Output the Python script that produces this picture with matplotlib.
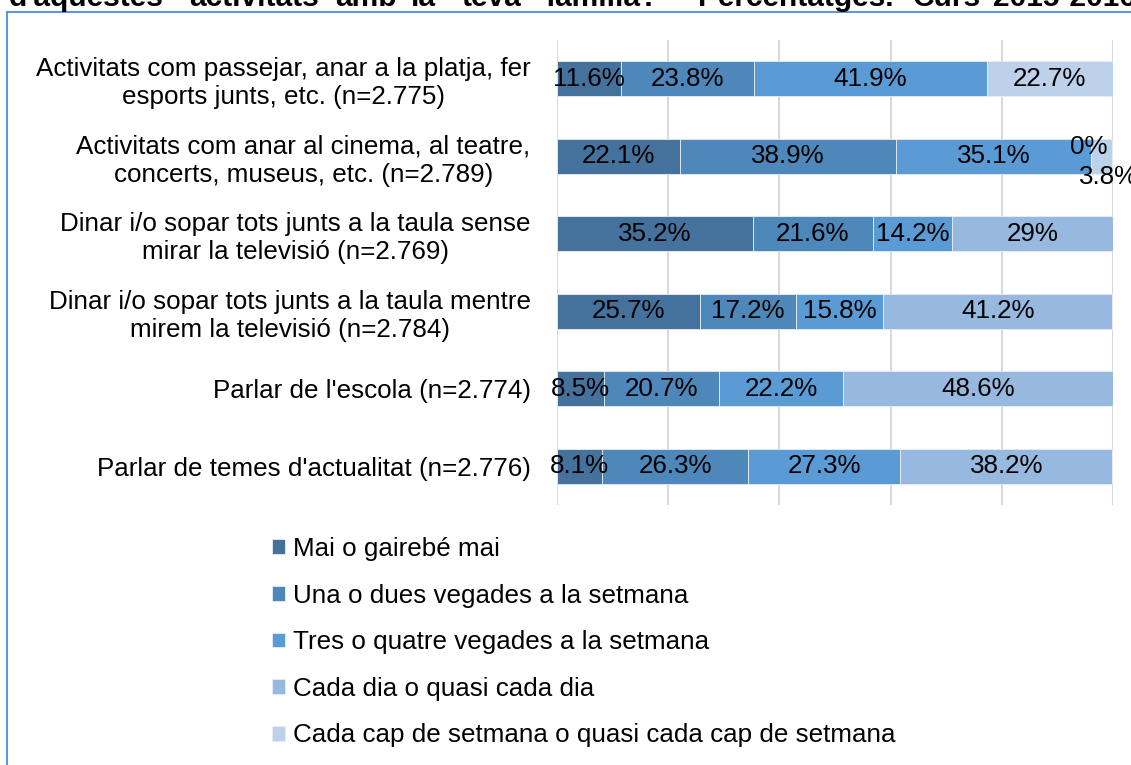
import numpy as np
import matplotlib
matplotlib.use("Agg")
import matplotlib.pyplot as plt
from matplotlib.patches import Rectangle

plt.rcParams['font.family'] = ['Liberation Sans', 'DejaVu Sans']

categories = [
    "Activitats com passejar, anar a la platja, fer\nesports junts, etc. (n=2.775)",
    "Activitats com anar al cinema, al teatre,\nconcerts, museus, etc. (n=2.789)",
    "Dinar i/o sopar tots junts a la taula sense\nmirar la televisió (n=2.769)",
    "Dinar i/o sopar tots junts a la taula mentre\nmirem la televisió (n=2.784)",
    "Parlar de l'escola (n=2.774)",
    "Parlar de temes d'actualitat (n=2.776)",
]
series_names = [
    "Mai o gairebé mai",
    "Una o dues vegades a la setmana",
    "Tres o quatre vegades a la setmana",
    "Cada dia o quasi cada dia",
    "Cada cap de setmana o quasi cada cap de setmana",
]
mai = [11.6, 22.1, 35.2, 25.7, 8.5, 8.1]
una_dues = [23.8, 38.9, 21.6, 17.2, 20.7, 26.3]
tres_quatre = [41.9, 35.1, 14.2, 15.8, 22.2, 27.3]
cada_dia = [np.nan, 0.0, 29.0, 41.2, 48.6, 38.2]
cap_setmana = [22.7, 3.8, np.nan, np.nan, np.nan, np.nan]
colors = ['#44729D', '#4E87BA', '#5B9BD5', '#97B9E0', '#BDD1EA']

# title is cut off at the top of the original image (justified words)
title_words = ["d'aquestes", "activitats", "amb", "la", "teva", "família?",
               "Percentatges.", "Curs", "2015-2016"]
title_x = [9, 189, 335, 411, 462, 545, 698, 913, 993]

# label nudges (pixels) where the original chart moved labels away
nudges = {(1, 3): (-3, 9), (1, 4): (7, -21)}

fs = 18.7
fig = plt.figure(figsize=(11.31, 7.65), dpi=100)
ax = fig.add_axes([557 / 1131, 1 - 505 / 765, 556 / 1131, 465 / 765])

data = [mai, una_dues, tres_quatre, cada_dia, cap_setmana]
y = np.arange(len(categories))
left = np.zeros(len(categories))
for j, (vals, name, col) in enumerate(zip(data, series_names, colors)):
    v = np.nan_to_num(np.array(vals, dtype=float))
    ax.barh(y, v, left=left, height=0.45, color=col, edgecolor='#E8EEF6',
            linewidth=0.6, label=name, zorder=2)
    for i, val in enumerate(vals):
        if np.isnan(val):
            continue
        dx, dy = nudges.get((i, j), (0, 0))
        txt = f"{val:g}%"
        ax.annotate(txt, (left[i] + v[i] / 2, y[i]),
                    xytext=(dx * 0.72, dy * 0.72), textcoords='offset points',
                    ha='center', va='center', fontsize=fs, color='black',
                    zorder=3, annotation_clip=False)
    left += v

ax.set_xlim(0, 100)
ax.set_ylim(len(categories) - 0.5, -0.5)
ax.set_xticks(np.arange(0, 101, 20))
ax.set_xticklabels([])
ax.grid(axis='x', color='#D9D9D9', linewidth=1.5, zorder=0)
ax.set_axisbelow(True)
ax.tick_params(axis='both', length=0)
ax.tick_params(axis='y', pad=19)
ax.set_yticks(y)
ax.set_yticklabels(categories, fontsize=fs, multialignment='center')
for s in ax.spines.values():
    s.set_visible(False)

fig.legend(loc='upper left', bbox_to_anchor=(272 / 1131, 1 - 537 / 765),
           frameon=False, fontsize=fs, handlelength=0.5, handleheight=0.5,
           handletextpad=0.3, labelspacing=0.87, borderpad=0, borderaxespad=0)

for w, xp in zip(title_words, title_x):
    fig.text(xp / 1131, 1 - 6 / 765, w, fontsize=21.5, fontweight='bold',
             ha='left', va='baseline')
fig.patches.append(Rectangle((7 / 1131, -0.1), 2, 1 - 12 / 765 + 0.1,
                             transform=fig.transFigure, fill=False,
                             edgecolor='#5B9BD5', linewidth=1.5))

fig.savefig("out.png", dpi=100)
